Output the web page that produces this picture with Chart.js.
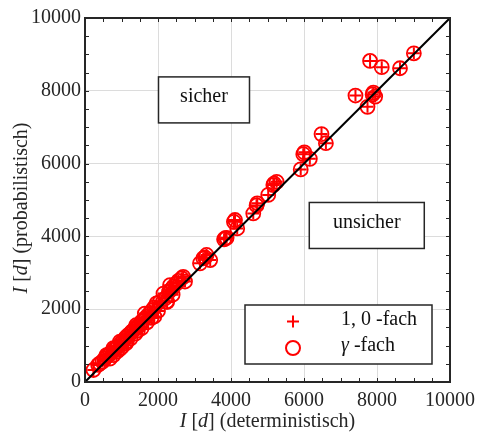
<!DOCTYPE html>
<html>
<head>
<meta charset="utf-8">
<script src="https://cdn.jsdelivr.net/npm/chart.js@4"></script>
<style>
  html, body { margin: 0; padding: 0; background: #fff; }
  #wrap { width: 477px; height: 436px; }
</style>
</head>
<body>
<div id="wrap"><canvas id="theChart" width="477" height="436"></canvas></div>
<script>
"use strict";

// Durations I [d]: deterministic (x) vs probabilistic (y)
const detValues = [
  9010, 8630, 8130, 7810, 7900, 7950, 7880, 7410, 7740, 6480,
  6600, 6010, 5980, 6160, 5910, 5250, 5180, 5160, 5020, 4720,
  4700, 4610, 4080, 4110, 4170, 3840, 3810, 3880, 3330, 3290,
  3240, 3150, 3430, 2690, 2740, 2650, 2560, 2510, 2420, 2380,
  2330, 2300, 2200, 2150, 2240, 2050, 1960, 1900, 1850, 1780,
  1690, 1640, 1600, 1550, 1500, 1420, 1450, 1400, 1350, 1300,
  1260, 1200, 1140, 1100, 1050, 1000, 960, 900, 860, 800,
  780, 700, 650, 600, 590, 540, 480, 410, 360, 230,
  2250, 2000, 1820, 1700, 1550, 1380, 1250, 1120, 1000, 880,
  780, 680, 1900, 2400, 1450, 1150, 950
];
const probValues = [
  9030, 8620, 8650, 8820, 7950, 7840, 7900, 7870, 7560, 6810,
  6560, 6310, 6260, 6130, 5840, 5500, 5450, 5410, 5140, 4910,
  4850, 4630, 4400, 4450, 4220, 3950, 3920, 3960, 3490, 3420,
  3400, 3260, 3350, 2890, 2760, 2850, 2780, 2710, 2620, 2560,
  2660, 2480, 2300, 2430, 2210, 2200, 2160, 2050, 1980, 1900,
  1800, 1880, 1700, 1660, 1580, 1520, 1520, 1560, 1450, 1400,
  1360, 1300, 1250, 1200, 1130, 1090, 1110, 980, 940, 900,
  930, 800, 740, 700, 740, 640, 560, 510, 470, 330,
  2200, 1950, 1760, 1640, 1480, 1330, 1200, 1060, 950, 840,
  740, 640, 1800, 2400, 1420, 1120, 900
];

// gamma-scaled results sit on the same points
const gammaDet = detValues.slice();
const gammaProb = probValues.slice();

const axisMin = 0;
const axisMax = 10000;
const majorStep = 2000;
const minorStep = 500;

const seriesLabels = [[["1, 0", false], [" -fach", false]], [["\u03b3", true], [" -fach", false]]];
const xTitle = [["I", true], [" [", false], ["d", true], ["] (deterministisch)", false]];
const yTitle = [["I", true], [" [", false], ["d", true], ["] (probabilistisch)", false]];
// text, centre x, centre y (data units), box width, box height (px)
const regionLabels = [["sicher", 3260, 7750, 91, 46], ["unsicher", 7720, 4300, 115, 46]];

const toPoints = (xs, ys) => xs.map((x, i) => ({ x: x, y: ys[i] }));

const SERIF = "'Liberation Serif', 'DejaVu Serif', serif";
const FS = 20;
const RED = "#ff0000";
const AXIS = "#262626";

function fontOf(it) {
  return (it ? "italic " : "") + FS + "px " + SERIF;
}

// draw a run of text pieces, some of them italic; align 'center' or 'left'
function drawRich(ctx, parts, x, y, align) {
  let total = 0;
  parts.forEach(([t, it]) => {
    ctx.font = fontOf(it);
    total += ctx.measureText(t).width;
  });
  let cx = align === "left" ? x : x - total / 2;
  ctx.textAlign = "left";
  parts.forEach(([t, it]) => {
    ctx.font = fontOf(it);
    ctx.fillText(t, cx, y);
    cx += ctx.measureText(t).width;
  });
}

const framePlugin = {
  id: "frame",
  afterDraw(chart) {
    const ctx = chart.ctx;
    const a = chart.chartArea;
    const xs = chart.scales.x;
    const ys = chart.scales.y;
    ctx.save();

    // inward ticks on all four sides
    ctx.strokeStyle = AXIS;
    ctx.lineWidth = 1;
    ctx.beginPath();
    for (let v = axisMin; v <= axisMax; v += minorStep) {
      const px = Math.round(xs.getPixelForValue(v)) + 0.5;
      const py = Math.round(ys.getPixelForValue(v)) + 0.5;
      const len = 4;
      ctx.moveTo(px, a.bottom); ctx.lineTo(px, a.bottom - len);
      ctx.moveTo(px, a.top); ctx.lineTo(px, a.top + len);
      ctx.moveTo(a.left, py); ctx.lineTo(a.left + len, py);
      ctx.moveTo(a.right, py); ctx.lineTo(a.right - len, py);
    }
    ctx.stroke();

    // axes box
    ctx.lineWidth = 2;
    ctx.strokeRect(a.left, a.top, a.right - a.left, a.bottom - a.top);

    // region labels
    ctx.textBaseline = "middle";
    regionLabels.forEach(([txt, vx, vy, w, h]) => {
      const cx = xs.getPixelForValue(vx);
      const cy = ys.getPixelForValue(vy);
      ctx.fillStyle = "#fff";
      ctx.fillRect(cx - w / 2, cy - h / 2, w, h);
      ctx.lineWidth = 1.5;
      ctx.strokeStyle = AXIS;
      ctx.strokeRect(cx - w / 2, cy - h / 2, w, h);
      ctx.fillStyle = "#111";
      drawRich(ctx, [[txt, false]], cx, cy - 3, "center");
    });

    // legend
    const lx = 245, ly = 305, lw = 187, lh = 59;
    ctx.fillStyle = "#fff";
    ctx.fillRect(lx, ly, lw, lh);
    ctx.lineWidth = 1.5;
    ctx.strokeStyle = AXIS;
    ctx.strokeRect(lx, ly, lw, lh);
    ctx.strokeStyle = RED;
    ctx.lineWidth = 2;
    ctx.beginPath();
    ctx.moveTo(287, 321.5); ctx.lineTo(299, 321.5);
    ctx.moveTo(293, 315.5); ctx.lineTo(293, 327.5);
    ctx.stroke();
    ctx.beginPath();
    ctx.arc(293, 348, 7, 0, Math.PI * 2);
    ctx.stroke();
    ctx.fillStyle = "#111";
    drawRich(ctx, seriesLabels[0], 341, 320, "left");
    drawRich(ctx, seriesLabels[1], 341, 346, "left");

    // axis titles
    ctx.fillStyle = "#262626";
    ctx.textBaseline = "alphabetic";
    drawRich(ctx, xTitle, (a.left + a.right) / 2, 427, "center");
    ctx.translate(27, (a.top + a.bottom) / 2 + 8);
    ctx.rotate(-Math.PI / 2);
    drawRich(ctx, yTitle, 0, 0, "center");
    ctx.restore();
  }
};

new Chart(document.getElementById("theChart"), {
  type: "scatter",
  data: {
    datasets: [
      {
        label: "diagonal",
        data: [{ x: axisMin, y: axisMin }, { x: axisMax, y: axisMax }],
        showLine: true,
        borderColor: "#000",
        borderWidth: 2,
        pointRadius: 0
      },
      {
        label: "1,0-fach",
        data: toPoints(detValues, probValues),
        pointStyle: "cross",
        pointRadius: 6,
        borderColor: RED,
        borderWidth: 2,
        backgroundColor: RED
      },
      {
        label: "gamma-fach",
        data: toPoints(gammaDet, gammaProb),
        pointStyle: "circle",
        pointRadius: 7,
        borderColor: RED,
        borderWidth: 1.8,
        backgroundColor: "rgba(0,0,0,0)"
      }
    ]
  },
  options: {
    responsive: false,
    animation: false,
    layout: { padding: { left: 0, right: 27, top: 18, bottom: 0 } },
    plugins: { legend: { display: false }, tooltip: { enabled: false } },
    scales: {
      x: {
        min: axisMin,
        max: axisMax,
        afterFit(scale) {
          scale.height = 54;
          scale.paddingLeft = 0;
          scale.paddingRight = 0;
        },
        border: { display: false },
        grid: { color: "#dcdcdc", lineWidth: 1, drawTicks: false },
        ticks: {
          stepSize: majorStep,
          padding: 7,
          color: AXIS,
          maxRotation: 0,
          font: { family: SERIF, size: FS },
          callback: (v) => String(v)
        }
      },
      y: {
        min: axisMin,
        max: axisMax,
        afterFit(scale) {
          scale.width = 85;
          scale.paddingTop = 0;
          scale.paddingBottom = 0;
        },
        border: { display: false },
        grid: { color: "#dcdcdc", lineWidth: 1, drawTicks: false },
        ticks: {
          stepSize: majorStep,
          padding: 4,
          color: AXIS,
          font: { family: SERIF, size: FS },
          callback: (v) => String(v)
        }
      }
    }
  },
  plugins: [framePlugin]
});
</script>
</body>
</html>
